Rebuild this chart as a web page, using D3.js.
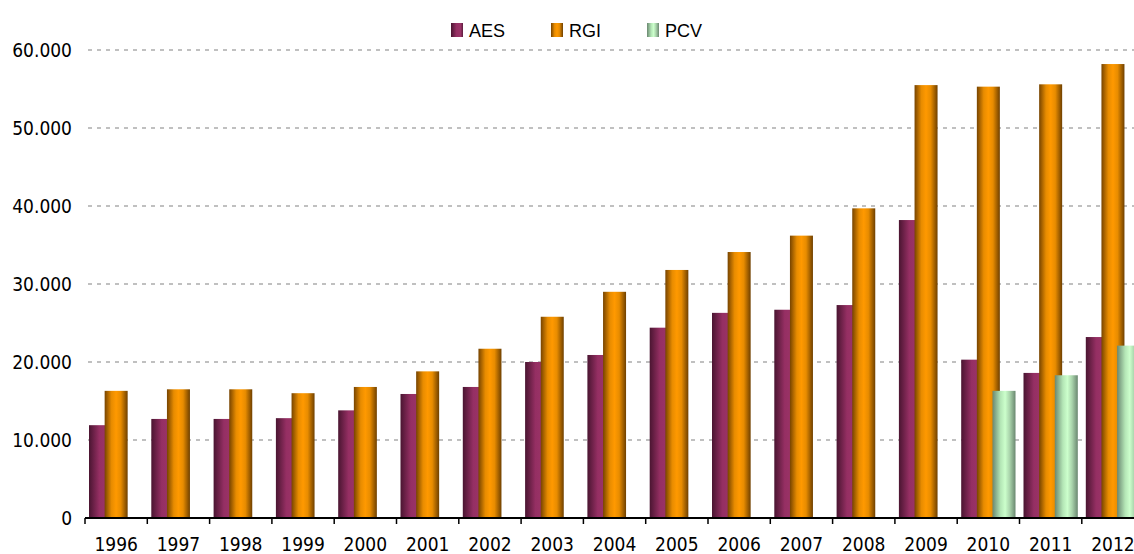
<!DOCTYPE html>
<html>
<head>
<meta charset="utf-8">
<script src="https://cdn.jsdelivr.net/npm/d3@7"></script>
<style>
	body { margin: 0; background: #fff; }
	svg { display: block; }
	.axis text { font-family: "DejaVu Sans Condensed", "DejaVu Sans", sans-serif; font-stretch: condensed; font-size: 19px; fill: #000; }
	.legend text { font-family: "Liberation Sans", Arial, sans-serif; font-size: 18px; fill: #000; }
</style>
</head>
<body>
<svg width="1134" height="554"></svg>
<script>
(function(){

	var years = ["1996","1997","1998","1999","2000","2001","2002","2003","2004","2005","2006","2007","2008","2009","2010","2011","2012"];
	var series = ["AES", "RGI", "PCV"];
	var aes = [11900, 12700, 12700, 12800, 13800, 15900, 16800, 20000, 20900, 24400, 26300, 26700, 27300, 38200, 20300, 18600, 23200];
	var rgi = [16300, 16500, 16500, 16000, 16800, 18800, 21700, 25800, 29000, 31800, 34100, 36200, 39700, 55500, 55300, 55600, 58200];
	var pcv = [null, null, null, null, null, null, null, null, null, null, null, null, null, null, 16300, 18300, 22100];
	var yTicks = [0, 10000, 20000, 30000, 40000, 50000, 60000];

	var svg = d3.select("svg"),
		width = +svg.attr("width"),
		left = 85, bottom = 518, top = 50,
		step = 62.3,
		barW = 23;

	var values = {AES: aes, RGI: rgi, PCV: pcv};
	var grads = {
		AES: [["0%", "#4a1531"], ["45%", "#952f63"], ["80%", "#9b3468"], ["100%", "#5c1d3e"]],
		RGI: [["0%", "#774400"], ["30%", "#e88c00"], ["50%", "#ff9900"], ["70%", "#e88c00"], ["100%", "#6f4000"]],
		PCV: [["0%", "#6a8770"], ["35%", "#b4e6b6"], ["55%", "#ccffcc"], ["75%", "#a9d3ab"], ["100%", "#6a8770"]]
	};

	var defs = svg.append("defs");
	series.forEach(function(s){
		var g = defs.append("linearGradient").attr("id", "g" + s)
			.attr("x1", "0%").attr("x2", "100%").attr("y1", "0%").attr("y2", "0%");
		grads[s].forEach(function(st){
			g.append("stop").attr("offset", st[0]).attr("stop-color", st[1]);
		});
	});

	var x = d3.scaleBand().domain(years).range([left, left + step * years.length]).padding(0);
	var inner = d3.scalePoint().domain(series).range([4, step - 4 - barW]);
	var y = d3.scaleLinear().domain([0, 60000]).range([bottom, top]);

	var fmt = d3.formatLocale({decimal: ",", thousands: ".", grouping: [3], currency: ["", ""]}).format(",");

	// gridlines
	svg.append("g").selectAll("line")
		.data(yTicks.filter(function(d){ return d > 0; }))
		.enter().append("line")
			.attr("x1", left + 3).attr("x2", width)
			.attr("y1", function(d){ return y(d); })
			.attr("y2", function(d){ return y(d); })
			.attr("stroke", "#c0c0c0")
			.attr("stroke-width", 2)
			.attr("stroke-dasharray", "4,5");

	// bars
	series.forEach(function(s){
		var data = years.map(function(yr, i){ return {year: yr, v: values[s][i]}; })
			.filter(function(d){ return d.v != null; });
		svg.append("g").selectAll("rect")
			.data(data)
			.enter().append("rect")
				.attr("x", function(d){ return x(d.year) + inner(s); })
				.attr("y", function(d){ return y(d.v); })
				.attr("width", barW)
				.attr("height", function(d){ return bottom - y(d.v); })
				.attr("fill", "url(#g" + s + ")");
	});

	// y axis labels
	var ya = svg.append("g").attr("class", "axis")
		.attr("transform", "translate(" + left + ",0)")
		.call(d3.axisLeft(y).tickValues(yTicks).tickFormat(fmt).tickSize(0).tickPadding(13));
	ya.select(".domain").remove();
	ya.selectAll("text").attr("dy", "0.36em");

	// x axis
	var xa = svg.append("g").attr("class", "axis")
		.attr("transform", "translate(0," + bottom + ")")
		.call(d3.axisBottom(x).tickSize(0).tickPadding(20));
	xa.select(".domain").remove();
	xa.selectAll("text").attr("dy", "0.68em");
	svg.append("line")
		.attr("x1", left).attr("x2", width)
		.attr("y1", bottom).attr("y2", bottom)
		.attr("stroke", "#000").attr("stroke-width", 2);
	svg.append("g").selectAll("line")
		.data(years)
		.enter().append("line")
			.attr("x1", function(d){ return x(d); })
			.attr("x2", function(d){ return x(d); })
			.attr("y1", bottom).attr("y2", bottom + 6)
			.attr("stroke", "#000").attr("stroke-width", 1.5);

	// legend
	var legX = {AES: 451, RGI: 551, PCV: 647};
	var leg = svg.append("g").attr("class", "legend");
	series.forEach(function(s){
		leg.append("rect")
			.attr("x", legX[s]).attr("y", 23)
			.attr("width", 12).attr("height", 14)
			.attr("fill", "url(#g" + s + ")");
		leg.append("text")
			.attr("x", legX[s] + 18).attr("y", 36.5)
			.text(s);
	});

})();
</script>
</body>
</html>
